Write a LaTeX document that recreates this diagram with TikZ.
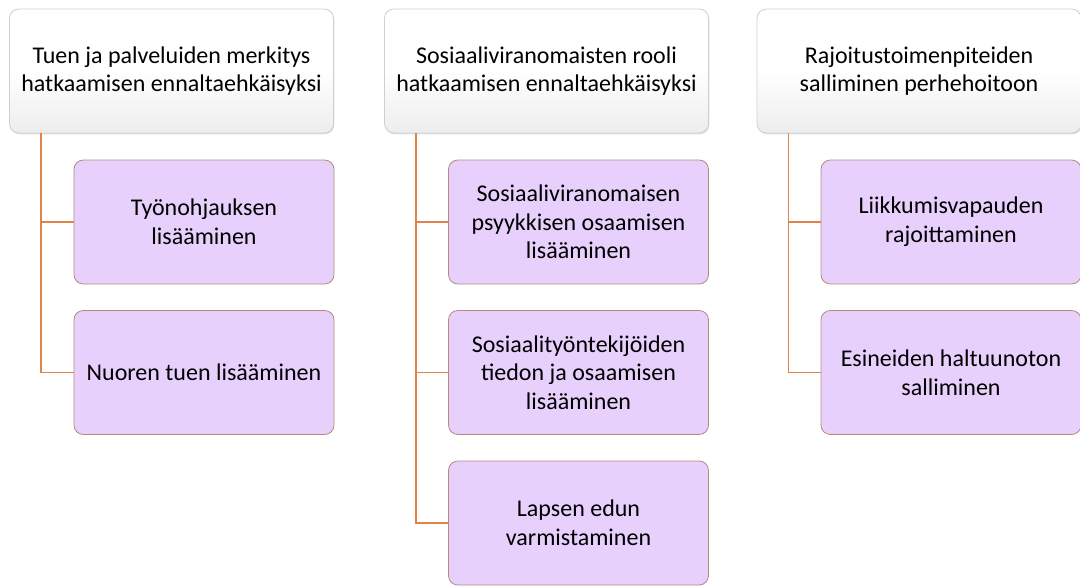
\documentclass[tikz,border=0pt]{standalone}
\usepackage{fontspec}
\setmainfont{Carlito}
\usetikzlibrary{shadows}

\definecolor{lilac}{HTML}{E8D0FD}
\definecolor{lilacline}{HTML}{B48A7C}
\definecolor{linkorange}{HTML}{E0844A}
\definecolor{headline}{HTML}{CFCFCF}

\tikzset{
  headbox/.style={draw=headline,line width=0.6pt,rounded corners=7pt,
    top color=white,bottom color=black!7,middle color=white,
    minimum width=243pt,minimum height=93pt,align=center,
    font=\fontsize{18}{21.5}\selectfont,
    drop shadow={opacity=0.25,shadow xshift=0.6pt,shadow yshift=-1pt}},
  itembox/.style={draw=lilacline,line width=0.6pt,fill=lilac,rounded corners=7pt,
    minimum width=195pt,minimum height=93pt,align=center,
    font=\fontsize{18}{21.5}\selectfont},
  link/.style={draw=linkorange,line width=1.1pt}
}

\begin{document}
\begin{tikzpicture}[x=0.75pt,y=-0.75pt]
\useasboundingbox (0,0) rectangle (1080,585);

% column 1
\node[headbox] (tuki) at (171.5,71) {Tuen ja palveluiden merkitys\\hatkaamisen ennaltaehkäisyksi};
\node[itembox] (tyo) at (204,222) {Työnohjauksen\\lisääminen};
\node[itembox] (nuori) at (204,372.5) {Nuoren tuen lisääminen};

% column 2
\node[headbox] (rooli) at (546.5,71) {Sosiaaliviranomaisten rooli\\hatkaamisen ennaltaehkäisyksi};
\node[itembox] (psyk) at (578.5,222) {Sosiaaliviranomaisen\\psyykkisen osaamisen\\lisääminen};
\node[itembox] (tieto) at (578.5,372.5) {Sosiaalityöntekijöiden\\tiedon ja osaamisen\\lisääminen};
\node[itembox] (etu) at (578.5,523) {Lapsen edun\\varmistaminen};

% column 3
\node[headbox] (rajoitus) at (919,71) {Rajoitustoimenpiteiden\\salliminen perhehoitoon};
\node[itembox] (liike) at (951,222) {Liikkumisvapauden\\rajoittaminen};
\node[itembox] (esine) at (951,372.5) {Esineiden haltuunoton\\salliminen};

% connectors
\foreach \head/\kids in {tuki/{tyo,nuori},rooli/{psyk,tieto,etu},rajoitus/{liike,esine}}
  \foreach \kid in \kids
    \draw[link] ([xshift=24pt]\head.south west) |- (\kid.west);
\end{tikzpicture}
\end{document}
